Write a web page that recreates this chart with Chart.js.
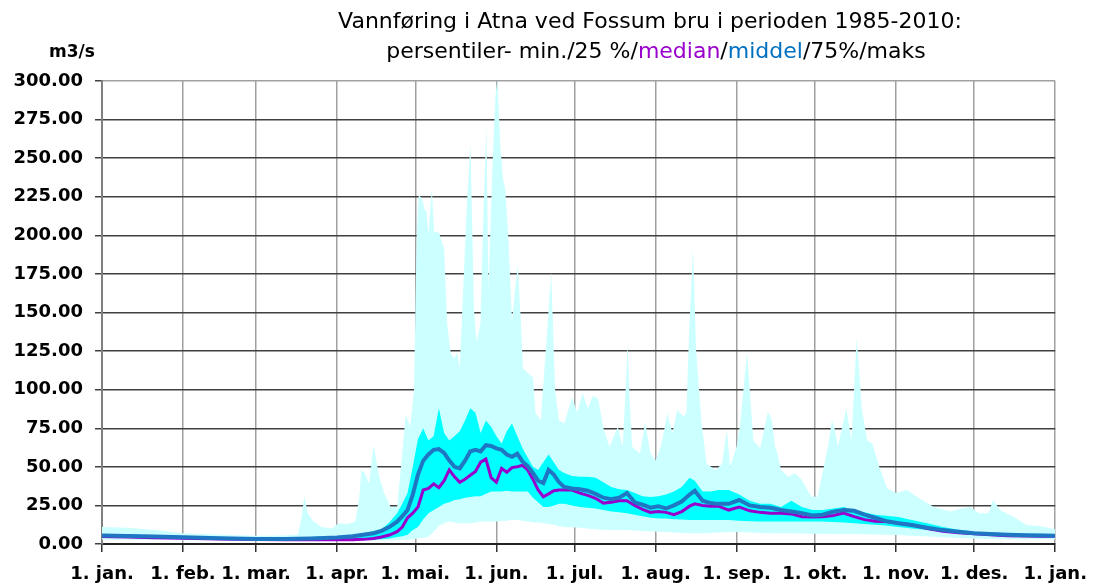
<!DOCTYPE html>
<html><head><meta charset="utf-8">
<script src="https://cdn.jsdelivr.net/npm/chart.js@4.4.1/dist/chart.umd.min.js"></script>
<style>html,body{margin:0;padding:0;background:#fff}canvas{display:block}</style>
</head><body>
<canvas id="c" width="1099" height="588"></canvas>
<script>
// ---- tick labels / categories ----
const monthDays = [0,31,59,90,120,151,181,212,243,273,304,334,365];
const monthLabels = ['1. jan.','1. feb.','1. mar.','1. apr.','1. mai.','1. jun.','1. jul.','1. aug.','1. sep.','1. okt.','1. nov.','1. des.','1. jan.'];
const yTickValues = [0,25,50,75,100,125,150,175,200,225,250,275,300];
const titleLine1 = 'Vannføring i Atna ved Fossum bru i perioden 1985-2010:';
const titleLine2 = [
  {text:'persentiler- min./25 %/', color:'#000000'},
  {text:'median', color:'#9900cc'},
  {text:'/', color:'#000000'},
  {text:'middel', color:'#0070c0'},
  {text:'/75%/maks', color:'#000000'}
];
const yUnit = 'm3/s';

// ---- day-of-year grid for the percentile / median / mean series ----
const days = [0,10,20,31,45,59,70,80,90,96,
  100,104,107,110,113,115,117,119,121,123,
  125,127,129,131,133,135,137,139,141,143,
  145,147,149,151,153,155,157,159,161,163,
  165,167,169,171,173,175,177,180,183,186,
  189,192,195,198,201,204,207,210,213,216,
  219,222,225,227,230,233,236,240,244,248,
  252,256,260,264,268,272,276,280,284,288,
  292,296,300,305,310,316,322,328,334,340,
  347,354,360,365];

const meanVals = [5.5,5.2,4.8,4.3,3.7,3.3,3.3,3.6,4.2,5,
  6,7,8.5,11,14.5,18,22,32,45,54,
  58,61,61.5,59,54,50,49,54,60,61,
  60,64,63.5,62,61,58,56.5,58.5,53.5,50.5,
  46,41,39.5,48,45,40,37,36,35.5,34.5,
  32.5,30,29,30,33,27,25.5,23.5,24.5,23,
  25,27.5,32,34.5,28,26.5,26,26,28.5,25,
  24,23.5,22,21,20,18.5,19,21,22,21.5,
  19,17,15,13.5,12.3,10.5,9,8,7,6.5,
  6,5.7,5.5,5.4];

const medianVals = [4.8,4.5,4.1,3.7,3.2,2.9,2.8,2.8,2.8,2.8,
  3,3.6,4.5,5.8,8,11,17,20,24,35,
  36,39,36.5,41,48,43.5,40,42,44.5,47,
  53,55,43,40,49,46.5,49.5,50,51,48,
  42,35,30.6,32.5,34.5,35,35,35,33,31.5,
  29.6,26.5,27,28,28,25,22.5,20.5,21,20.5,
  19,21,24.5,26,25,24.5,24.5,22,24,21.5,
  20.5,20,20,19.5,17.7,17.5,17.7,18.5,20,17.7,
  15.8,14.8,14.5,13.5,12.5,10,8.3,7.3,6.6,6,
  5.4,5.2,5.1,5.1];

const p25Vals = [4.3,4.1,3.8,3.4,3,2.7,2.6,2.6,2.6,2.6,
  2.7,2.9,3,3.5,4.5,5,6,9,11,16,
  20,22,24,26,27,28.5,29,30,30.5,31,
  31,32.5,34,34,34,34.5,34,34,34,34,
  30,27,24,24,25,26,26,25,24,23.5,
  23,22,21,20.5,20,19,18,17,16.6,16.5,
  16,15.8,15.5,15.5,15.5,15.5,15.5,15.5,15,14.8,
  14.5,14.5,14.5,14.5,14.5,14.5,14.5,14.3,14,13.5,
  13,12.5,12,11,10,9,8,7,6.3,5.8,
  5.3,5,4.8,4.7];

const p75Vals = [6.5,6.2,5.7,5.2,4.7,4.2,4.2,4.6,5.2,6,
  7,8.5,9.5,14,20,26,33,50,68,75,
  67,70,88,72,67,70,73,80,88,85,
  72,80,76,70,65,73,78,70,62,56,
  50,48,53,58,53,48,46,44,43.5,43.5,
  43,40,37,35.5,35,33,31,30.5,31,32,
  34,37,43,41,34,34,35,35,32,28,
  26,26,24,28,24,22,22,23,24,22,
  20.5,19,18.3,17.5,15.5,13.4,11,9.2,8,7.4,
  7,6.7,6.6,6.5];

const minVals = [2.8,2.7,2.6,2.5,2.4,2.2,2.1,2.1,2.1,2.1,
  2.1,2.2,2.3,2.4,2.5,2.6,2.8,3,3.5,4,
  4.5,8,12,13.5,14.5,14,13.5,13.5,13.5,14,
  14.5,14.5,14.5,14.5,15,15,15.5,15.5,15,14.5,
  14,14,13.5,13,12.5,11.5,11,10.8,10.5,10,
  9.5,9.3,9,9,9,8.7,8.5,8.2,8,7.8,
  7.5,7.2,7,7,7,7.2,7.5,7.8,7.8,7.5,
  7.2,7,7,7,6.8,6.7,6.6,6.5,6.5,6.5,
  6.3,6.2,6,5.8,5.3,4.8,4.3,3.9,3.6,3.2,
  3.1,3,3,3];

// ---- maximum series (own day positions, it is very spiky) ----
const maxDays = [0,10,20,31,45,59,70,75,76.3,77.5,78.8,81,84,88,90.5,94,97,98.5,99.3,100.6,
  102.3,104,106,108,110.5,113,114.5,116.3,118,119.5,120.5,121.3,122.5,123.5,124.3,125,126.3,127.2,129,131,
  132.2,133.5,134.8,136,137,138,139.8,141.1,142.4,143.4,144.9,146.1,147.2,148,149.4,150.6,151.4,152.5,153.5,154.4,
  155.7,157,158.2,159.2,160.2,161.2,163,165,166,168,170.3,172,173.5,175,177,180,182,184,186,188,
  190,192,194.3,197.5,199.4,200.5,201.3,202,203,206,208,210,212,214,216.5,218.4,220.3,222.8,223.8,224.7,
  226.3,227.5,229.5,231.5,235,237.4,239.3,240.5,243,244.4,247,249.4,252,255,256.5,257.7,258.5,260,262.8,265.3,
  268,271.6,274,278,279.5,280.5,281.8,285,287,289,291,293,295,297.6,300.7,304,308.3,312,318.5,324.8,
  329,332.4,336,339.4,341.3,343.8,349,354,359,365];
const maxVals = [11,10.5,9,7,6,5.4,5.5,6,16,31,20,14.5,11,10,13.4,13,14.5,30,48,46,
  39,64,45,33,24,24,50,84,76,100,200,226,224,217,215,200,230,202,202,191,
  142,124,120,124,114,153,222,260,153,131,142,217,271,165,239,289,302,258,237,230,
  195,144,165,181,150,114,111,108,85,80,134,176,100,80,78,95,85,98,88,96,
  94,75,63,76,63,100,130,95,63,58.7,79,58.7,54,63,84.6,71.7,86.8,82.5,85,132,
  191.5,125.6,80,52,48,52,74,50,63,78,124.5,67,62,85.7,80,63,60,48,43.6,45.8,
  41.4,30.6,30.6,63,80,75,63,88,67,134,87,67,65,50,36,33,35,30.6,24,21,
  23,24,20,20,28.5,22,17.7,12.3,11.7,9.5];

const pts = (xs, ys) => xs.map((x, i) => ({x: x, y: ys[i]}));

const whiteBg = {
  id: 'whiteBg',
  beforeDraw(chart) {
    const c = chart.ctx;
    c.save(); c.fillStyle = '#ffffff'; c.fillRect(0, 0, chart.width, chart.height); c.restore();
  }
};
const titles = {
  id: 'titles',
  afterDraw(chart) {
    const c = chart.ctx;
    c.save();
    c.font = '22px "DejaVu Sans"';
    c.textBaseline = 'alphabetic';
    c.textAlign = 'center';
    c.fillStyle = '#000';
    c.fillText(titleLine1, 650, 28);
    c.textAlign = 'left';
    let total = 0;
    titleLine2.forEach(p => { total += c.measureText(p.text).width; });
    let x = 656 - total / 2;
    titleLine2.forEach(p => { c.fillStyle = p.color; c.fillText(p.text, x, 58); x += c.measureText(p.text).width; });
    c.font = 'bold 17px "DejaVu Sans"';
    c.fillStyle = '#000';
    c.textAlign = 'center';
    c.fillText(yUnit, 72, 57);
    c.restore();
  }
};

const tickFont = {family: 'DejaVu Sans', size: 18, weight: 'bold'};
const none = 'rgba(0,0,0,0)';

new Chart(document.getElementById('c'), {
  type: 'line',
  data: {
    datasets: [
      {label: 'middel', data: pts(days, meanVals), borderColor: '#1f77c4', borderWidth: 4, pointRadius: 0, fill: false, tension: 0},
      {label: 'median', data: pts(days, medianVals), borderColor: '#9900cc', borderWidth: 3, pointRadius: 0, fill: false, tension: 0},
      {label: '75%', data: pts(days, p75Vals), borderColor: none, borderWidth: 0, pointRadius: 0, fill: 3, backgroundColor: '#00ffff', tension: 0},
      {label: '25 %', data: pts(days, p25Vals), borderColor: none, borderWidth: 0, pointRadius: 0, fill: false, tension: 0},
      {label: 'maks', data: pts(maxDays, maxVals), borderColor: none, borderWidth: 0, pointRadius: 0, fill: 5, backgroundColor: '#ccffff', tension: 0},
      {label: 'min.', data: pts(days, minVals), borderColor: none, borderWidth: 0, pointRadius: 0, fill: false, tension: 0}
    ]
  },
  options: {
    responsive: false,
    animation: false,
    events: [],
    layout: {padding: {top: 81, right: 37, left: 0, bottom: 0}},
    plugins: {legend: {display: false}, tooltip: {enabled: false}, title: {display: false}},
    scales: {
      x: {
        type: 'linear', min: 0, max: 365,
        afterBuildTicks: s => { s.ticks = monthDays.map(v => ({value: v})); },
        afterFit: s => { s.height = 44; },
        ticks: {autoSkip: false, maxRotation: 0, minRotation: 0, font: tickFont, color: '#000', padding: 12,
          callback: v => monthLabels[monthDays.indexOf(v)]},
        grid: {color: '#a0a0a0', lineWidth: 1.5, tickLength: 8, tickColor: '#333'},
        border: {color: '#222', width: 2}
      },
      y: {
        min: 0, max: 300,
        afterBuildTicks: s => { s.ticks = yTickValues.map(v => ({value: v})); },
        afterFit: s => { s.width = 102; },
        ticks: {font: tickFont, color: '#000', padding: 12, callback: v => Number(v).toFixed(2)},
        grid: {color: c => (c.tick && c.tick.value === 300) ? '#a0a0a0' : '#404040', lineWidth: 1.5, tickLength: 7, tickColor: '#404040'},
        border: {color: '#808080', width: 2}
      }
    }
  },
  plugins: [whiteBg, titles]
});
</script>
</body></html>
